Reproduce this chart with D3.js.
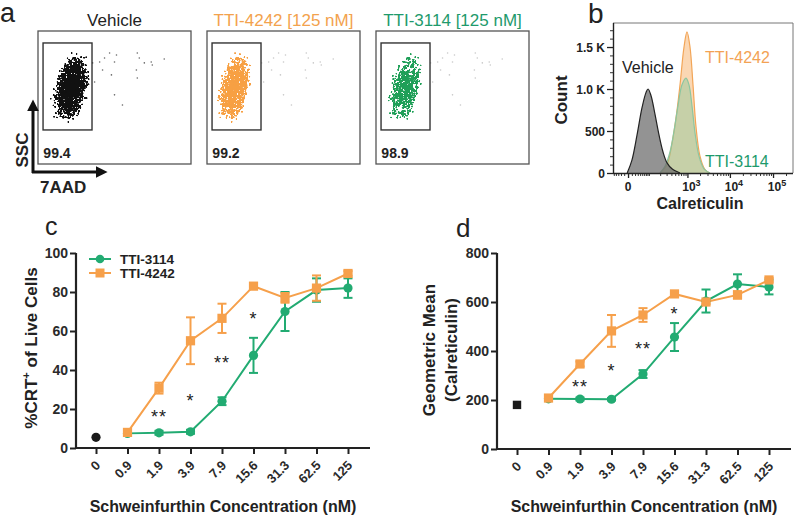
<!DOCTYPE html>
<html><head><meta charset="utf-8">
<script src="https://cdn.jsdelivr.net/npm/d3@7"></script>
<style>
body{margin:0;background:#fff;}
svg{display:block;font-family:"Liberation Sans",Arial,Helvetica,sans-serif;}
</style></head><body>
<svg id="fig" width="800" height="520"></svg>
<script>
// ---------------- DATA ----------------
// Panel a (flow cytometry dot plots)
const facsTitles = ["Vehicle", "TTI-4242 [125 nM]", "TTI-3114 [125 nM]"];
const facsGateValues = ["99.4", "99.2", "98.9"];
const facsColors = ["#111111", "#f7a043", "#1f9f58"];
const facsTitleColors = ["#222222", "#f3a24d", "#1e9a6c"];
const facsDensity = [1.0, 0.95, 0.85];
// sparse events outside the gate (percent of plot width / height)
const outlierX = [40.3, 43.5, 50, 46.8, 51.3, 64.9, 66.2, 69.5, 74, 74.7, 82.5, 42.2, 48, 37, 64.3, 64.9, 50, 55.2, 35.7];
const outlierY = [23.3, 20.3, 23.3, 16.5, 18, 16.5, 20.3, 24, 23.3, 25.6, 21, 29.3, 33, 38.3, 29.3, 35.3, 48, 55.6, 24];

// Panel b (histograms of calreticulin intensity)
const histVehicleX = [-2, 10, 27, 49, 71, 84, 106, 141, 186, 240, 308, 414, 659];
const histVehicleY = [0, 150, 450, 780, 960, 1000, 920, 700, 450, 250, 120, 50, 0];
const hist4242X = [198, 308, 414, 523, 659, 826, 976, 1153, 1360, 1604, 1994, 2618, 3428];
const hist4242Y = [0, 100, 350, 650, 1050, 1500, 1680, 1500, 1050, 550, 200, 40, 0];
const hist3114X = [198, 272, 368, 466, 587, 737, 923, 1091, 1287, 1518, 1888, 2477, 3428];
const hist3114Y = [0, 80, 250, 500, 800, 1050, 1130, 1050, 800, 480, 200, 50, 0];
const histYTicks = [0, 500, 1000, 1500];
const histYTickLabels = ["0", "500", "1.0 K", "1.5 K"];
const histXTicks = [0, 1000, 10000, 100000];
const histXTickExp = ["", "3", "4", "5"];

// Panels c & d (dose response)
const categories = ["0", "0.9", "1.9", "3.9", "7.9", "15.6", "31.3", "62.5", "125"];
const doseCategories = ["0.9", "1.9", "3.9", "7.9", "15.6", "31.3", "62.5", "125"];
const crtVehicle = 5.5;
const crt3114 = [7.5, 7.8, 8.3, 24, 47.5, 70, 81, 82];
const crt3114Err = [0.8, 1, 1, 2, 9, 10, 6, 5];
const crt4242 = [8, 30.7, 55, 66.5, 83, 77, 82, 89.5];
const crt4242Err = [1.5, 2.8, 12, 7.5, 1, 2.5, 6.5, 1.2];
const crtSigCats = ["1.9", "3.9", "7.9", "15.6"];
const crtSigLabels = ["**", "*", "**", "*"];
const crtSigY = [18, 26, 45.6, 68];

const gmVehicle = 180;
const gm3114 = [205, 204, 203, 306, 457, 604, 673, 661];
const gm3114Err = [5, 6, 5, 16, 57, 47, 40, 30];
const gm4242 = [208, 347, 482, 547, 633, 600, 629, 690];
const gm4242Err = [8, 10, 65, 28, 5, 8, 15, 8];
const gmSigCats = ["1.9", "3.9", "7.9", "15.6"];
const gmSigLabels = ["**", "*", "**", "*"];
const gmSigY = [269, 335, 424, 567];

const seriesNames = ["TTI-3114", "TTI-4242"];
const ORANGE = "#f6a04b", GREEN = "#22ab72";

// ---------------- DRAWING ----------------
const svg = d3.select("#fig");
svg.append("rect").attr("width", 800).attr("height", 520).attr("fill", "#fff");
const defs = svg.append("defs");

// stipple filter to render dense event clouds as dots
const f = defs.append("filter").attr("id", "stipple").attr("x", "-30%").attr("y", "-30%")
  .attr("width", "160%").attr("height", "160%").attr("color-interpolation-filters", "sRGB");
f.append("feTurbulence").attr("type", "fractalNoise").attr("baseFrequency", 0.95)
  .attr("numOctaves", 2).attr("seed", 5).attr("result", "noise");
f.append("feColorMatrix").attr("in", "noise").attr("type", "matrix")
  .attr("values", "0 0 0 0 0  0 0 0 0 0  0 0 0 0 0  1.8 0 0 0 -0.4").attr("result", "na");
f.append("feComposite").attr("in", "SourceAlpha").attr("in2", "na").attr("operator", "arithmetic")
  .attr("k1", 0).attr("k2", 1).attr("k3", -1).attr("k4", 0.22).attr("result", "m");
const ct = f.append("feComponentTransfer").attr("in", "m").attr("result", "mb");
ct.append("feFuncA").attr("type", "discrete").attr("tableValues", "0 1");
f.append("feComposite").attr("in", "SourceGraphic").attr("in2", "mb").attr("operator", "in").attr("result", "c");
const ct2 = f.append("feComponentTransfer").attr("in", "c");
ct2.append("feFuncA").attr("type", "linear").attr("slope", 10).attr("intercept", 0);

// panel letters
function letter(t, x, y, size) {
  svg.append("text").attr("x", x).attr("y", y).attr("font-size", size)
    .attr("fill", "#222").text(t);
}
letter("a", 0, 22, 27);
letter("b", 588, 23, 28);
letter("c", 45, 235, 25);
letter("d", 456, 237, 26);

// ---------- Panel a ----------
const boxLeft = [38, 207, 376], boxW = 153, boxTop = 31, boxH = 133;
const cloudCx = [21.5, 17.8, 19];
const cloudRx = [23, 21, 21];
facsTitles.forEach((t, i) => {
  const g = svg.append("g");
  const x = d3.scaleLinear().domain([0, 100]).range([boxLeft[i], boxLeft[i] + boxW]);
  const y = d3.scaleLinear().domain([0, 100]).range([boxTop, boxTop + boxH]);
  const grad = defs.append("radialGradient").attr("id", "cloud" + i);
  grad.append("stop").attr("offset", "0%").attr("stop-color", facsColors[i]).attr("stop-opacity", facsDensity[i]);
  grad.append("stop").attr("offset", "50%").attr("stop-color", facsColors[i]).attr("stop-opacity", facsDensity[i] * 0.8);
  grad.append("stop").attr("offset", "100%").attr("stop-color", facsColors[i]).attr("stop-opacity", 0);
  // outliers
  g.selectAll("circle.o").data(outlierX).enter().append("circle")
    .attr("cx", (d) => x(d)).attr("cy", (d, k) => y(outlierY[k])).attr("r", 0.8)
    .attr("fill", i === 0 ? "#666" : "#c8c8c8");
  // cloud
  const cx = x(cloudCx[i]), cy = y(43);
  g.append("ellipse").attr("cx", 0).attr("cy", 0).attr("rx", cloudRx[i]).attr("ry", 47)
    .attr("transform", `translate(${cx},${cy}) rotate(12)`)
    .attr("fill", `url(#cloud${i})`).attr("filter", "url(#stipple)");
  // gate
  g.append("rect").attr("x", x(3.3)).attr("y", y(9)).attr("width", x(35.3) - x(3.3))
    .attr("height", y(74.4) - y(9)).attr("fill", "none").attr("stroke", "#333").attr("stroke-width", 1.4);
  // frame
  g.append("rect").attr("x", x(0)).attr("y", y(0)).attr("width", boxW).attr("height", boxH)
    .attr("fill", "none").attr("stroke", "#555").attr("stroke-width", 1.3);
  g.append("text").attr("x", x(3.5)).attr("y", y(95.5)).attr("font-size", 14).attr("font-weight", "bold")
    .attr("fill", "#222").text(facsGateValues[i]);
  g.append("text").attr("x", x(50)).attr("y", 26).attr("text-anchor", "middle").attr("font-size", 17)
    .attr("fill", facsTitleColors[i]).text(t);
});
// axis arrows
defs.append("marker").attr("id", "arr").attr("viewBox", "0 0 10 10").attr("refX", 2).attr("refY", 5)
  .attr("markerWidth", 4).attr("markerHeight", 4).attr("orient", "auto")
  .append("path").attr("d", "M0,0 L10,5 L0,10 Z").attr("fill", "#111");
svg.append("path").attr("d", "M33,173 L33,109").attr("stroke", "#111").attr("stroke-width", 3)
  .attr("fill", "none").attr("marker-end", "url(#arr)");
svg.append("path").attr("d", "M32,172 L98,172").attr("stroke", "#111").attr("stroke-width", 3)
  .attr("fill", "none").attr("marker-end", "url(#arr)");
svg.append("text").attr("transform", "translate(28,150) rotate(-90)").attr("text-anchor", "middle")
  .attr("font-size", 17).attr("font-weight", "bold").attr("fill", "#222").text("SSC");
svg.append("text").attr("x", 40).attr("y", 193).attr("font-size", 17).attr("font-weight", "bold")
  .attr("fill", "#222").text("7AAD");

// ---------- Panel b ----------
const xB = d3.scaleSymlog().constant(44).domain([-54, 290000]).range([613, 793]);
const yB = d3.scaleLinear().domain([0, 1786]).range([173, 23]);
const gb = svg.append("g");
const area = d3.area().x((d) => xB(d[0])).y0(yB(0)).y1((d) => yB(Math.max(0, d[1]))).curve(d3.curveCatmullRom);
const line = d3.line().x((d) => xB(d[0])).y((d) => yB(Math.max(0, d[1]))).curve(d3.curveCatmullRom);
const zip = (xs, ys) => xs.map((v, k) => [v, ys[k]]);
const hists = [
  { d: zip(hist4242X, hist4242Y), fill: "#f8bd80", fo: 0.6, stroke: "#f2a557" },
  { d: zip(hist3114X, hist3114Y), fill: "#86c79c", fo: 0.45, stroke: "#8cc6a0" },
  { d: zip(histVehicleX, histVehicleY), fill: "#6f6f6f", fo: 0.75, stroke: "#222" }
];
hists.forEach((h) => {
  gb.append("path").attr("d", area(h.d)).attr("fill", h.fill).attr("fill-opacity", h.fo);
  gb.append("path").attr("d", line(h.d)).attr("fill", "none").attr("stroke", h.stroke).attr("stroke-width", 1.2);
});
// frame
gb.append("path").attr("d", `M${xB.range()[0]},${yB.range()[1]} H${xB.range()[1]} V${yB.range()[0]}`)
  .attr("fill", "none").attr("stroke", "#777").attr("stroke-width", 1);
// y axis
const yMinor = d3.range(0, 1800, 100);
gb.append("g").attr("transform", `translate(${xB.range()[0]},0)`)
  .call(d3.axisLeft(yB).tickValues(yMinor).tickSize(3).tickFormat(""))
  .call((s) => { s.select(".domain").remove(); s.selectAll("line").attr("stroke", "#333"); });
const yAx = gb.append("g").attr("transform", `translate(${xB.range()[0]},0)`)
  .call(d3.axisLeft(yB).tickValues(histYTicks).tickSize(6).tickFormat(""));
yAx.select(".domain").attr("d", `M0.5,${yB.range()[1]}V${yB.range()[0]}`).attr("stroke", "#222").attr("stroke-width", 1.4);
yAx.selectAll("line").attr("stroke", "#222").attr("stroke-width", 1.3);
const yLab = gb.append("g").attr("font-size", 12).attr("font-weight", "bold").attr("fill", "#222");
histYTicks.forEach((v, k) => {
  yLab.append("text").attr("x", xB.range()[0] - 8).attr("y", yB(v) + 4.5).attr("text-anchor", "end")
    .text(histYTickLabels[k]);
});
// x axis
const xMinor = [].concat(d3.range(-50, 100, 10), d3.range(200, 1000, 100), d3.range(2000, 10000, 1000),
  d3.range(20000, 100000, 10000), [200000]);
gb.append("g").attr("transform", `translate(0,${yB.range()[0]})`)
  .call(d3.axisBottom(xB).tickValues(xMinor).tickSize(3).tickFormat(""))
  .call((s) => { s.select(".domain").remove(); s.selectAll("line").attr("stroke", "#333"); });
const xAx = gb.append("g").attr("transform", `translate(0,${yB.range()[0]})`)
  .call(d3.axisBottom(xB).tickValues(histXTicks).tickSize(5).tickFormat(""));
xAx.select(".domain").attr("d", `M${xB.range()[0]},0.5H${xB.range()[1]}`).attr("stroke", "#222").attr("stroke-width", 1.4);
xAx.selectAll("line").attr("stroke", "#222").attr("stroke-width", 1.3);
histXTicks.forEach((v, k) => {
  const t = gb.append("text").attr("x", xB(v) + (k ? 4 : 0)).attr("y", 191).attr("text-anchor", "middle")
    .attr("font-size", 12).attr("font-weight", "bold").attr("fill", "#222");
  if (k === 0) t.text("0");
  else { t.append("tspan").text("10"); t.append("tspan").attr("dy", -5).attr("font-size", 9).text(histXTickExp[k]); }
});
gb.append("text").attr("transform", "translate(567,100) rotate(-90)").attr("text-anchor", "middle")
  .attr("font-size", 17).attr("font-weight", "bold").attr("fill", "#222").text("Count");
gb.append("text").attr("x", 700).attr("y", 209).attr("text-anchor", "middle")
  .attr("font-size", 16).attr("font-weight", "bold").attr("fill", "#222").text("Calreticulin");
gb.append("text").attr("x", 622).attr("y", 73).attr("font-size", 16).attr("fill", "#222").text("Vehicle");
gb.append("text").attr("x", 705).attr("y", 63).attr("font-size", 16).attr("fill", "#f3a254").text("TTI-4242");
gb.append("text").attr("x", 705).attr("y", 167).attr("font-size", 16).attr("fill", "#1e9a6c").text("TTI-3114");

// ---------- Panels c & d ----------
function dosePanel(cfg) {
  const g = svg.append("g");
  const x = d3.scalePoint().domain(categories).range(cfg.xRange);
  const y = d3.scaleLinear().domain(cfg.yDomain).range(cfg.yRange);
  const axL = x(categories[0]) - 20, axR = x(categories[categories.length - 1]) + 22;
  // y axis
  const ya = g.append("g").attr("transform", `translate(${axL},0)`)
    .call(d3.axisLeft(y).tickValues(cfg.yTicks).tickSize(6).tickPadding(2));
  ya.select(".domain").attr("d", `M0,${y.range()[1]}V${y.range()[0]}`).attr("stroke", "#222").attr("stroke-width", 2.2);
  ya.selectAll("line").attr("stroke", "#222").attr("stroke-width", 2);
  ya.selectAll("text").attr("font-size", 14).attr("font-weight", "bold").attr("fill", "#2a2a2a")
    .attr("font-family", "Liberation Sans, Arial, sans-serif");
  // x axis
  const xa = g.append("g").attr("transform", `translate(0,${y.range()[0]})`)
    .call(d3.axisBottom(x).tickSize(6).tickFormat(""));
  xa.select(".domain").attr("d", `M${axL - 1},0H${axR}`).attr("stroke", "#222").attr("stroke-width", 2.2);
  xa.selectAll("line").attr("stroke", "#222").attr("stroke-width", 2);
  categories.forEach((c) => {
    g.append("text").attr("transform", `translate(${x(c) + 2},${y.range()[0] + 15}) rotate(-45)`)
      .attr("text-anchor", "end").attr("dy", "0.35em").attr("font-size", 13).attr("font-weight", "bold")
      .attr("fill", "#2a2a2a").text(c);
  });
  // series
  const series = [
    { v: cfg.s3114, e: cfg.s3114Err, color: GREEN, shape: "circle" },
    { v: cfg.s4242, e: cfg.s4242Err, color: ORANGE, shape: "square" }
  ];
  const ln = d3.line().x((d) => x(d[0])).y((d) => y(d[1]));
  series.forEach((s) => {
    const pts = doseCategories.map((c, k) => [c, s.v[k], s.e[k]]);
    g.append("path").attr("d", ln(pts)).attr("fill", "none").attr("stroke", s.color).attr("stroke-width", 2);
  });
  series.forEach((s) => {
    const pts = doseCategories.map((c, k) => [c, s.v[k], s.e[k]]);
    const eb = g.append("g").attr("stroke", s.color).attr("stroke-width", 2);
    pts.forEach((p) => {
      const cx = x(p[0]), y1 = y(p[1] + p[2]), y2 = y(p[1] - p[2]);
      eb.append("line").attr("x1", cx).attr("x2", cx).attr("y1", y1).attr("y2", y2);
      eb.append("line").attr("x1", cx - 4.5).attr("x2", cx + 4.5).attr("y1", y1).attr("y2", y1);
      eb.append("line").attr("x1", cx - 4.5).attr("x2", cx + 4.5).attr("y1", y2).attr("y2", y2);
    });
    pts.forEach((p) => {
      if (s.shape === "circle") g.append("circle").attr("cx", x(p[0])).attr("cy", y(p[1])).attr("r", 4.6).attr("fill", s.color);
      else g.append("rect").attr("x", x(p[0]) - 4.6).attr("y", y(p[1]) - 4.6).attr("width", 9.2).attr("height", 9.2).attr("fill", s.color);
    });
  });
  // vehicle
  const vx = x(categories[0]), vy = y(cfg.vehicle);
  if (cfg.vehicleShape === "circle") g.append("circle").attr("cx", vx).attr("cy", vy).attr("r", 4.6).attr("fill", "#1a1a1a");
  else g.append("rect").attr("x", vx - 4.2).attr("y", vy - 4.2).attr("width", 8.4).attr("height", 8.4).attr("fill", "#1a1a1a");
  // significance
  cfg.sigCats.forEach((c, k) => {
    g.append("text").attr("x", x(c)).attr("y", y(cfg.sigY[k]) + 10).attr("text-anchor", "middle")
      .attr("font-size", 18).attr("fill", "#222").attr("letter-spacing", 1).text(cfg.sigLabels[k]);
  });
  // x title
  g.append("text").attr("x", (axL + axR) / 2).attr("y", 512).attr("text-anchor", "middle")
    .attr("font-size", 16).attr("font-weight", "bold").attr("fill", "#222")
    .text("Schweinfurthin Concentration (nM)");
  return { g, x, y, axL };
}

const c = dosePanel({
  xRange: [96, 348], yDomain: [0, 100], yRange: [448, 253], yTicks: [0, 20, 40, 60, 80, 100],
  s3114: crt3114, s3114Err: crt3114Err, s4242: crt4242, s4242Err: crt4242Err,
  vehicle: crtVehicle, vehicleShape: "circle",
  sigCats: crtSigCats, sigLabels: crtSigLabels, sigY: crtSigY
});
// c y title
const ct1 = c.g.append("text").attr("transform", "translate(37,348) rotate(-90)").attr("text-anchor", "middle")
  .attr("font-size", 17).attr("font-weight", "bold").attr("fill", "#222");
ct1.append("tspan").text("%CRT");
ct1.append("tspan").attr("dy", -7).attr("font-size", 11).text("+");
ct1.append("tspan").attr("dy", 7).text(" of  Live Cells");
// c legend
[{ name: seriesNames[0], color: GREEN, shape: "circle", yy: 259 }, { name: seriesNames[1], color: ORANGE, shape: "square", yy: 273 }]
  .forEach((l) => {
    c.g.append("line").attr("x1", 89).attr("x2", 111).attr("y1", l.yy).attr("y2", l.yy).attr("stroke", l.color).attr("stroke-width", 2);
    if (l.shape === "circle") c.g.append("circle").attr("cx", 100).attr("cy", l.yy).attr("r", 4.3).attr("fill", l.color);
    else c.g.append("rect").attr("x", 95.5).attr("y", l.yy - 4.5).attr("width", 9).attr("height", 9).attr("fill", l.color);
    c.g.append("text").attr("x", 120).attr("y", l.yy + 4.5).attr("font-size", 13.5).attr("font-weight", "bold")
      .attr("fill", "#222").text(l.name);
  });

const d = dosePanel({
  xRange: [517, 769], yDomain: [0, 800], yRange: [449, 253], yTicks: [0, 200, 400, 600, 800],
  s3114: gm3114, s3114Err: gm3114Err, s4242: gm4242, s4242Err: gm4242Err,
  vehicle: gmVehicle, vehicleShape: "square",
  sigCats: gmSigCats, sigLabels: gmSigLabels, sigY: gmSigY
});
const dt = d.g.append("text").attr("transform", "translate(0,350) rotate(-90)").attr("text-anchor", "middle")
  .attr("font-size", 17).attr("font-weight", "bold").attr("fill", "#222");
dt.append("tspan").attr("x", 0).attr("y", 435).text("Geometric Mean");
dt.append("tspan").attr("x", 0).attr("y", 457).text("(Calreticulin)");
</script>
</body></html>
